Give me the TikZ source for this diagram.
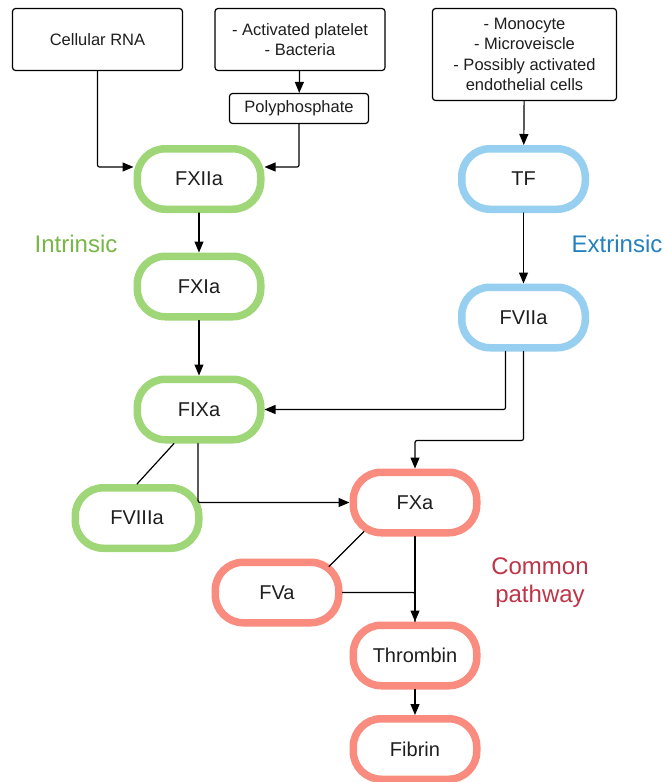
\documentclass[tikz,border=0pt]{standalone}
\usepackage{fontspec}
\setmainfont{Liberation Sans}
\usepackage{tikz}
\usetikzlibrary{arrows.meta,positioning}
\definecolor{intgreen}{RGB}{158,214,120}
\definecolor{extblue}{RGB}{150,207,240}
\definecolor{comsalmon}{RGB}{249,140,126}
\definecolor{inttext}{RGB}{120,182,72}
\definecolor{exttext}{RGB}{36,128,190}
\definecolor{comtext}{RGB}{190,52,72}
\definecolor{inktext}{RGB}{30,30,30}
\tikzset{
  source/.style={draw=black, line width=1.2pt, rounded corners=3pt, fill=white,
    align=center, inner sep=0pt, text=inktext, font=\fontsize{16.5}{20.3}\selectfont},
  factor/.style={draw=#1, line width=7.5pt, rounded corners=28pt, fill=white,
    minimum width=123.5pt, minimum height=60.5pt, inner sep=0pt,
    text=inktext, font=\fontsize{20}{24}\selectfont},
  pathlabel/.style={align=center, font=\fontsize{24}{28}\selectfont, text=#1},
  arr/.style={-{Triangle[length=11pt,width=9pt]}, line width=1.2pt, rounded corners=2pt},
  link/.style={line width=1.2pt, rounded corners=2pt}
}
\begin{document}
\begin{tikzpicture}[x=1pt, y=-1pt, line cap=round, line join=round]
  \useasboundingbox (0,0) rectangle (664,782);
  % triggers
  \node[source, minimum width=170pt, minimum height=62pt] (rna) at (97.5,39.5) {Cellular RNA};
  \node[source, minimum width=170pt, minimum height=62pt] (platelet) at (300,39.5) {- Activated platelet\\- Bacteria};
  \node[source, minimum width=139pt, minimum height=30pt] (polyp) at (299,108.5) {Polyphosphate};
  \node[source, minimum width=184pt, minimum height=92pt] (monocyte) at (524.5,54.5)
    {- Monocyte\\- Microveiscle\\- Possibly activated\\endothelial cells};
  % intrinsic
  \node[factor=intgreen] (fxii) at (199,179) {FXIIa};
  \node[factor=intgreen] (fxi) at (199,286.5) {FXIa};
  \node[factor=intgreen] (fix) at (199,409.5) {FIXa};
  \node[factor=intgreen] (fviii) at (137,518) {FVIIIa};
  % extrinsic
  \node[factor=extblue] (tf) at (523.5,179) {TF};
  \node[factor=extblue] (fvii) at (523.5,317.5) {FVIIa};
  % common
  \node[factor=comsalmon] (fx) at (415,502.5) {FXa};
  \node[factor=comsalmon] (fv) at (277,592.5) {FVa};
  \node[factor=comsalmon] (thrombin) at (415,655.5) {Thrombin};
  \node[factor=comsalmon] (fibrin) at (415,749) {Fibrin};
  % labels
  \node[pathlabel=inttext] (intlabel) at (76,244) {Intrinsic};
  \node[pathlabel=exttext] (extlabel) at (617,244) {Extrinsic};
  \node[pathlabel=comtext] (comlabel) at (540,583) {Common\\pathway};
  % connectors
  \draw[arr] (rna.south) |- ([yshift=12pt]fxii.west);
  \draw[arr] (platelet) -- (polyp);
  \draw[arr] (polyp.south) |- ([yshift=12pt]fxii.east);
  \draw[arr] (monocyte) -- (tf);
  \draw[arr] (fxii) -- (fxi);
  \draw[arr] (fxi) -- (fix);
  \draw[arr] (tf) -- (fvii);
  \draw[arr] ([xshift=-18pt]fvii.south) |- (fix.east);
  \draw[arr] (fvii.south) |- ([yshift=28pt]fx.north) -- (fx.north);
  \draw[arr] ([xshift=-1pt]fix.south) |- (fx.west);
  \draw[link] ([xshift=-25pt]fix.south) -- (fviii.north);
  \draw[link] ([xshift=-51pt,yshift=5pt]fx.south) -- ([xshift=52pt,yshift=-8pt]fv.north);
  \draw[link] (fv.east) -| (thrombin.north);
  \draw[arr] (fx) -- (thrombin);
  \draw[arr] (thrombin) -- (fibrin);
\end{tikzpicture}
\end{document}
